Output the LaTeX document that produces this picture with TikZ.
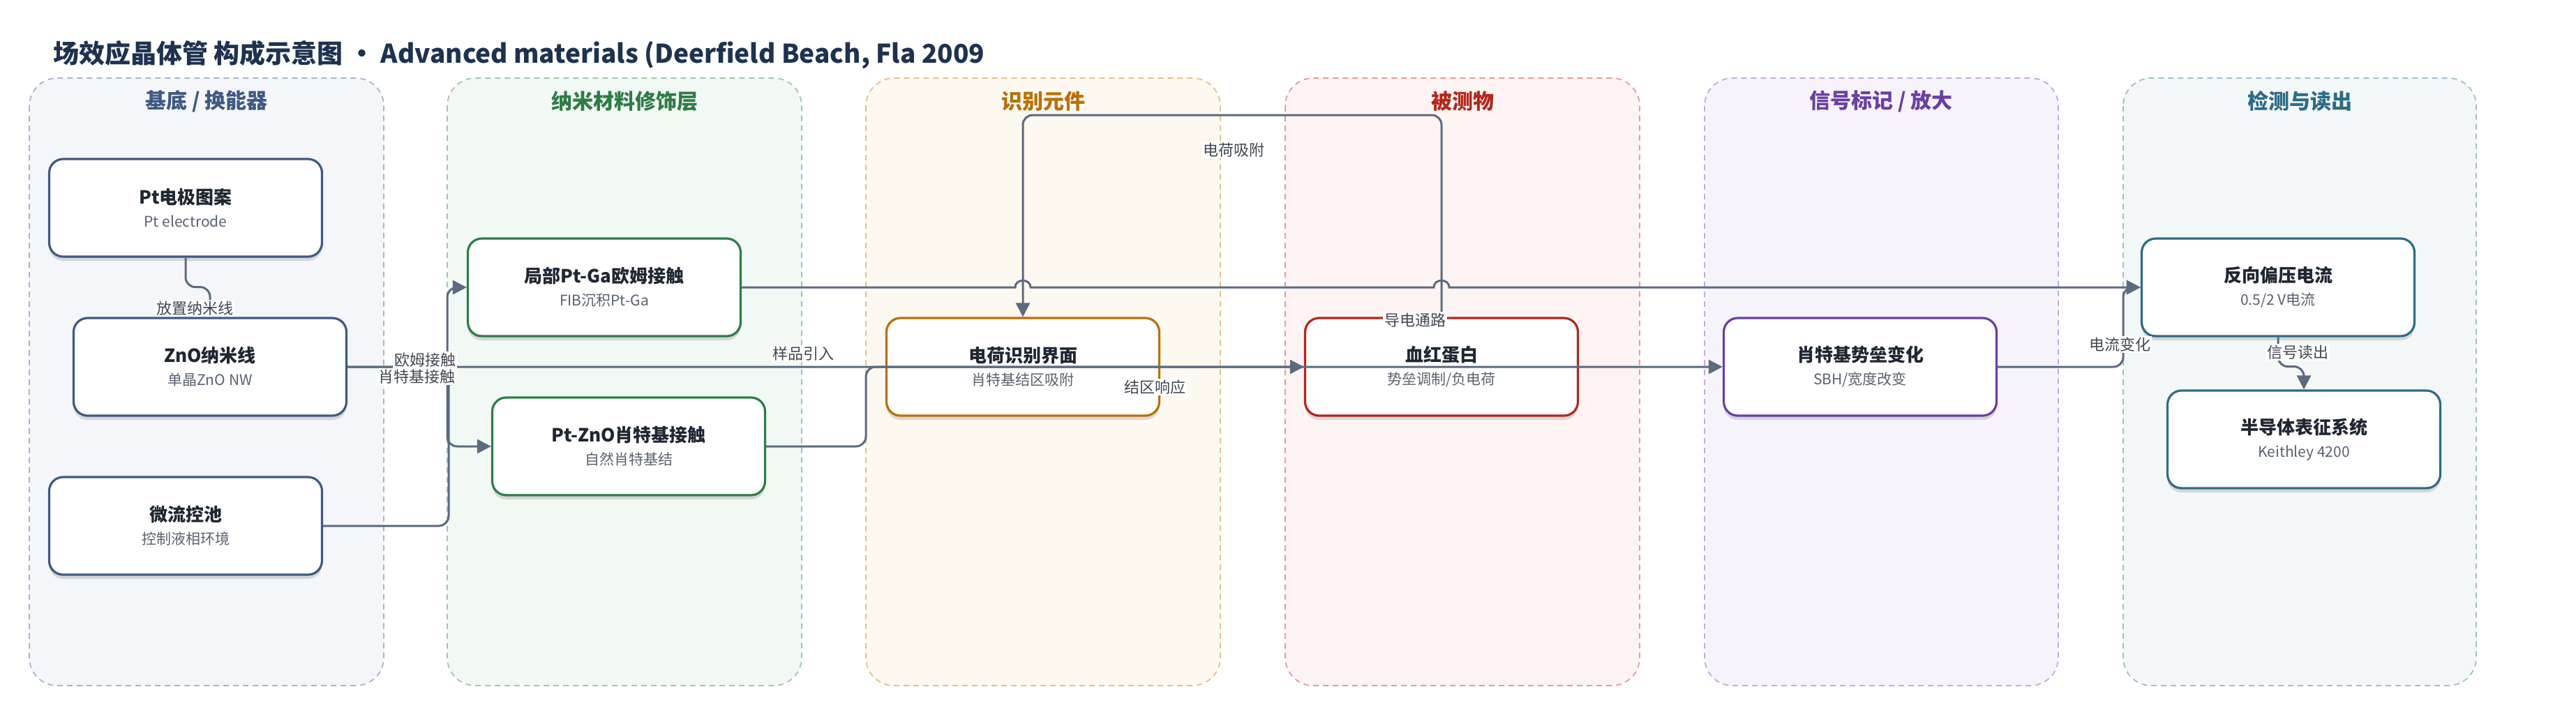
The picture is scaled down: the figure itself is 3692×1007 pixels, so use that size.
\documentclass[tikz,border=0pt]{standalone}
\usepackage{fontspec}
\setmainfont{Noto Sans CJK SC}
\usetikzlibrary{arrows.meta,shadows}

\definecolor{titlecol}{HTML}{1E3250}
\definecolor{edgecol}{HTML}{5B6B80}
\definecolor{maintext}{HTML}{1F2733}
\definecolor{subtext}{HTML}{59626F}
\definecolor{cA}{HTML}{3F5A82}\definecolor{fA}{HTML}{F4F6FA}\definecolor{dA}{HTML}{A8B5CA}
\definecolor{cB}{HTML}{2E7D46}\definecolor{fB}{HTML}{F2F8F4}\definecolor{dB}{HTML}{9CC9AA}
\definecolor{cC}{HTML}{B87109}\definecolor{fC}{HTML}{FDF8F0}\definecolor{dC}{HTML}{E5C18A}
\definecolor{cD}{HTML}{B3271F}\definecolor{fD}{HTML}{FDF3F2}\definecolor{dD}{HTML}{E59C97}
\definecolor{cE}{HTML}{6C3FA3}\definecolor{fE}{HTML}{F6F3FB}\definecolor{dE}{HTML}{C4AADF}
\definecolor{cF}{HTML}{2D6C88}\definecolor{fF}{HTML}{F3F7F8}\definecolor{dF}{HTML}{9EBFCB}

\tikzset{
  lane/.style 2 args={draw=#1, fill=#2, line width=0.9pt, dash pattern=on 4pt off 3pt, rounded corners=20pt},
  lanehead/.style={font=\bfseries\fontsize{15}{18}\selectfont, text=#1},
  box/.style={draw=#1, fill=white, line width=1.6pt, rounded corners=10pt,
    minimum width=195.5pt, minimum height=70pt, align=center,
    font=\fontsize{13}{16.5}\selectfont,
    drop shadow={shadow xshift=0pt, shadow yshift=-3pt, opacity=0.13, fill=black}},
  link/.style={draw=edgecol, line width=1.5pt, rounded corners=7pt, -{Triangle[length=10pt,width=10pt]}},
  lbl/.style={fill=white, inner sep=1pt, text=maintext!85, font=\fontsize{11}{13}\selectfont}
}

\newcommand{\boxtext}[2]{{\bfseries\color{maintext}#1}\\{\fontsize{10.5}{16.5}\selectfont\color{subtext}#2}}

\begin{document}
\begin{tikzpicture}[x=0.5pt, y=-0.5pt]

\useasboundingbox (0,0) rectangle (3692,1007);

% Titel
\node[anchor=base west, text=titlecol, font=\bfseries\fontsize{18.5}{22}\selectfont, inner sep=0pt] (title) at (76,90)
  {场效应晶体管 构成示意图 · Advanced materials (Deerfield Beach, Fla 2009};

% Spalten
\draw[lane={dA}{fA}] (42,112) rectangle (550,983);
\draw[lane={dB}{fB}] (641,112) rectangle (1149,983);
\draw[lane={dC}{fC}] (1241,112) rectangle (1749,983);
\draw[lane={dD}{fD}] (1842,112) rectangle (2350,983);
\draw[lane={dE}{fE}] (2443,112) rectangle (2950,983);
\draw[lane={dF}{fF}] (3043,112) rectangle (3549,983);

\node[lanehead=cA] (hSub) at (296,145) {基底 / 换能器};
\node[lanehead=cB] (hNano) at (895,145) {纳米材料修饰层};
\node[lanehead=cC] (hRec) at (1495,145) {识别元件};
\node[lanehead=cD] (hAna) at (2096,145) {被测物};
\node[lanehead=cE] (hSig) at (2696,145) {信号标记 / 放大};
\node[lanehead=cF] (hDet) at (3296,145) {检测与读出};

% Knoten
\node[box=cA] (Pt) at (266,298) {\boxtext{Pt电极图案}{Pt electrode}};
\node[box=cA] (ZnO) at (301,526) {\boxtext{ZnO纳米线}{单晶ZnO NW}};
\node[box=cA] (Micro) at (266,754) {\boxtext{微流控池}{控制液相环境}};
\node[box=cB] (PtGa) at (866,412) {\boxtext{局部Pt-Ga欧姆接触}{FIB沉积Pt-Ga}};
\node[box=cB] (PtZnO) at (901,640) {\boxtext{Pt-ZnO肖特基接触}{自然肖特基结}};
\node[box=cC] (Iface) at (1466,526) {\boxtext{电荷识别界面}{肖特基结区吸附}};
\node[box=cD] (Hb) at (2066,526) {\boxtext{血红蛋白}{势垒调制/负电荷}};
\node[box=cE] (SBH) at (2666,526) {\boxtext{肖特基势垒变化}{SBH/宽度改变}};
\node[box=cF] (Bias) at (3265,412) {\boxtext{反向偏压电流}{0.5/2 V电流}};
\node[box=cF] (Sys) at (3302,630) {\boxtext{半导体表征系统}{Keithley 4200}};

% Pfeile
\draw[link] (Pt.south) -- ++(0,42) -| (ZnO.north);
\draw[link] (ZnO.east) -| (641,412) -- (PtGa.west);
\draw[link] (ZnO.east) -| (641,640) -- (PtZnO.west);
\draw[link] (Micro.east) -| (643,526) -- (Hb.west);
\draw[link] (PtZnO.east) -| (1241,526) -- (SBH.west);
\draw[link] (Hb.north) -- (2066,165) -| (Iface.north);
\draw[link, sharp corners] (PtGa.east) -- (1455,412) .. controls (1455,399) and (1477,399) .. (1477,412)
  -- (2055,412) .. controls (2055,399) and (2077,399) .. (2077,412) -- (Bias.west);
\draw[link] (SBH.east) -| (3043,412) -- (Bias.west);
\draw[link] (Bias.south) -- ++(0,42) -| (Sys.north);

% Beschriftungen
\node[lbl] (lPlace) at (279,442) {放置纳米线};
\node[lbl] (lOhm) at (609,516) {欧姆接触};
\node[lbl] (lSch) at (597,540) {肖特基接触};
\node[lbl] (lSample) at (1151,507) {样品引入};
\node[lbl] (lAds) at (1768,215) {电荷吸附};
\node[lbl] (lPath) at (2028,459) {导电通路};
\node[lbl] (lJunc) at (1655,555) {结区响应};
\node[lbl] (lCurr) at (3038,494) {电流变化};
\node[lbl] (lRead) at (3293,505) {信号读出};

\end{tikzpicture}
\end{document}
